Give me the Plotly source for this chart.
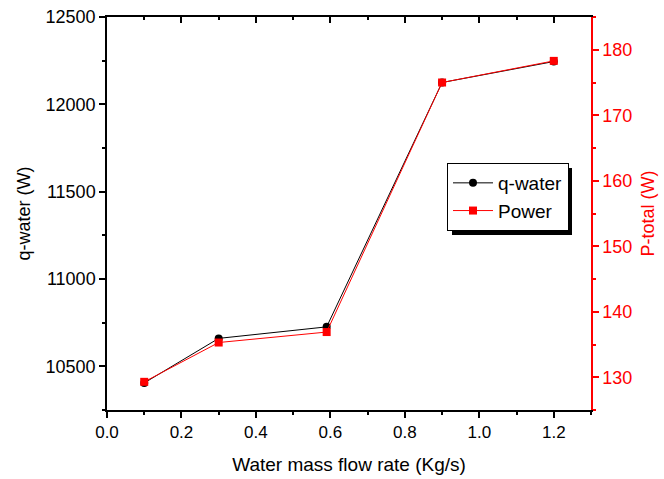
import plotly.graph_objects as go

flow_rate = [0.1, 0.3, 0.59, 0.9, 1.2]
q_water = [10405, 10660, 10726, 12125, 12245]
p_total = [129.3, 135.3, 136.9, 175.0, 178.3]

FONT = "Liberation Sans, Arial, sans-serif"
RED = "#FF0000"

fig = go.Figure()
fig.add_trace(go.Scatter(
    x=flow_rate, y=q_water, name="q-water", mode="lines+markers",
    line=dict(color="black", width=1),
    marker=dict(symbol="circle", size=8, color="black"),
    xaxis="x", yaxis="y"))
fig.add_trace(go.Scatter(
    x=flow_rate, y=p_total, name="Power", mode="lines+markers",
    line=dict(color=RED, width=1),
    marker=dict(symbol="square", size=8, color=RED),
    xaxis="x", yaxis="y2"))

L, R, T, B = 107, 73, 17, 69
W, H = 664, 479
pw, ph = W - L - R, H - T - B

# legend box geometry (px) for the shadow
lx0, ly0 = 447, 163
lw, lh = 120, 67
off = 5
fig.add_shape(type="rect", xref="paper", yref="paper", layer="above",
              x0=(lx0 + off - L) / pw, x1=(lx0 + lw + off - L) / pw,
              y0=(H - B - (ly0 + lh + off)) / ph, y1=(H - B - (ly0 + off)) / ph,
              fillcolor="black", line=dict(width=0))

fig.update_layout(
    width=W, height=H,
    margin=dict(l=L, r=R, t=T, b=B, autoexpand=False),
    paper_bgcolor="white", plot_bgcolor="white",
    font=dict(family=FONT, size=18, color="black"),
    showlegend=True,
    legend=dict(x=(lx0 - L) / pw, y=(H - B - ly0) / ph, xanchor="left", yanchor="top",
                bgcolor="white", bordercolor="black", borderwidth=1,
                font=dict(family=FONT, size=19), itemwidth=40,
                tracegroupgap=0),
    xaxis=dict(range=[0, 1.3], dtick=0.2, tick0=0, tickformat=".1f", automargin=False,
               showgrid=False, zeroline=False,
               showline=True, linecolor="black", linewidth=1.5,
               ticks="outside", ticklen=6, tickwidth=1.5, tickcolor="black",
               minor=dict(ticks="outside", dtick=0.1, ticklen=3, tickwidth=1.5, tickcolor="black"),
               tickfont=dict(size=17),
               title=dict(text="Water mass flow rate (Kg/s)", font=dict(size=19), standoff=17)),
    xaxis2=dict(range=[0, 1.3], overlaying="x", side="top", anchor="y", automargin=False,
                dtick=0.2, tick0=0, showticklabels=False, showgrid=False, zeroline=False,
                showline=True, linecolor="black", linewidth=1.5,
                ticks="inside", ticklen=6, tickwidth=1.5, tickcolor="black",
                minor=dict(ticks="inside", dtick=0.1, ticklen=3, tickwidth=1.5, tickcolor="black")),
    yaxis=dict(range=[10250, 12500], dtick=500, tick0=10500, tickformat="d", automargin=False,
               showgrid=False, zeroline=False,
               showline=True, linecolor="black", linewidth=1.5,
               ticks="outside", ticklen=6, tickwidth=1.5, tickcolor="black",
               minor=dict(ticks="outside", dtick=250, ticklen=3, tickwidth=1.5, tickcolor="black"),
               tickfont=dict(size=18),
               title=dict(text="q-water (W)", font=dict(size=18), standoff=10)),
    yaxis2=dict(range=[125, 185], dtick=10, tick0=130, overlaying="y", side="right", anchor="x",
                automargin=False,
                showgrid=False, zeroline=False,
                showline=True, linecolor=RED, linewidth=1.5,
                ticks="outside", ticklen=6, tickwidth=1.5, tickcolor=RED,
                minor=dict(ticks="outside", dtick=5, ticklen=3, tickwidth=1.5, tickcolor=RED),
                tickfont=dict(size=18, color=RED),
                title=dict(text="P-total (W)", font=dict(size=18, color=RED), standoff=10)),
)
fig.add_trace(go.Scatter(x=[None], y=[None], xaxis="x2", yaxis="y", showlegend=False, hoverinfo="skip"))

fig.write_html("out.html")
